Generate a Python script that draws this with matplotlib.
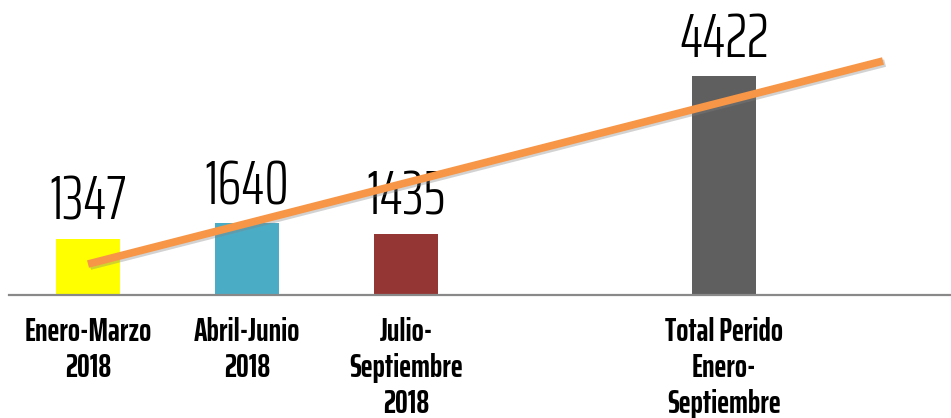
import matplotlib.pyplot as plt
import matplotlib.patheffects as pe
import numpy as np

# data
categorias = ["Enero-Marzo\n2018", "Abril-Junio\n2018", "Julio-\nSeptiembre\n2018", "",
              "Total Perido\nEnero-\nSeptiembre", ""]
valores = [1347, 1640, 1435, None, 4422, None]
colores = ["#FFFF00", "#4BACC6", "#943634", None, "#5F5F5F", None]
tendencia_x = [0, 5]
tendencia_y = [875, 4706]

fuente = ["Saira ExtraCondensed", "DejaVu Sans"]

fig = plt.figure(figsize=(9.51, 4.18), dpi=100)
ax = fig.add_axes([8.5 / 951, 1 - 294.5 / 418, 954 / 951, 294.5 / 418])

x = np.arange(len(categorias))
for i, v in enumerate(valores):
    if v is None:
        continue
    ax.bar(x[i], v, width=0.40, color=colores[i], zorder=2)
    ax.annotate(str(v), (x[i], v), xytext=(0, 14), textcoords="offset points",
                ha="center", va="baseline", fontsize=44, fontweight=300, family=fuente,
                color="black")

ax.plot(tendencia_x, tendencia_y, color="#F79646", linewidth=5.5, solid_capstyle="butt", zorder=3,
        path_effects=[pe.SimpleLineShadow(offset=(1.5, -1.5), shadow_color="gray", alpha=0.35),
                      pe.Normal()])

ax.set_xlim(-0.5, len(categorias) - 0.5)
ax.set_ylim(300, 5857)
ax.set_xticks(x)
ax.set_xticklabels(categorias, fontsize=23, fontweight="bold", family=fuente, linespacing=1.25,
                   va="top")
ax.tick_params(axis="x", length=0, pad=16)
ax.set_yticks([])
for s in ["top", "right", "left"]:
    ax.spines[s].set_visible(False)
ax.spines["bottom"].set_color("#898989")
ax.spines["bottom"].set_linewidth(1.6)

fig.savefig("out.png", dpi=100)
